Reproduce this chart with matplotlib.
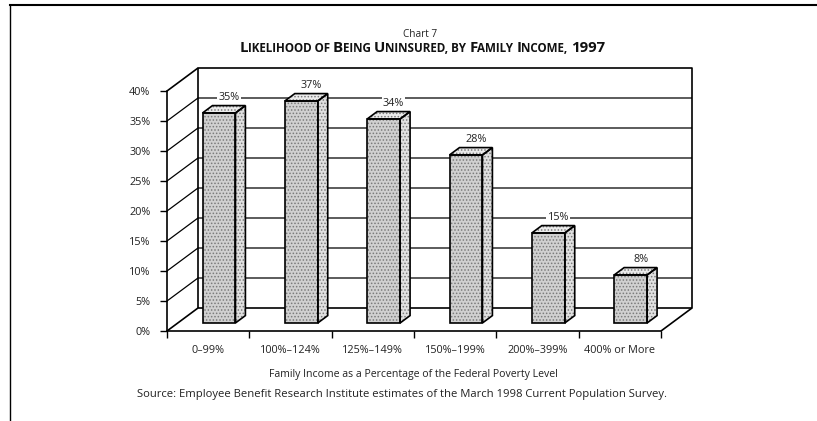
import matplotlib
matplotlib.use('Agg')
import matplotlib.pyplot as plt
from matplotlib.patches import Polygon
from matplotlib.lines import Line2D

# ---- data ----
categories = ['0–99%', '100%–124%', '125%–149%', '150%–199%', '200%–399%', '400% or More']
values = [35, 37, 34, 28, 15, 8]
value_labels = ['35%', '37%', '34%', '28%', '15%', '8%']
yticks = [0, 5, 10, 15, 20, 25, 30, 35, 40]
ytick_labels = ['0%', '5%', '10%', '15%', '20%', '25%', '30%', '35%', '40%']
chart_number = 'Chart 7'
title_chunks = [("L", True), ("IKELIHOOD OF ", False), ("B", True), ("EING ", False),
                ("U", True), ("NINSURED, BY ", False), ("F", True), ("AMILY ", False),
                ("I", True), ("NCOME, ", False), ("1997", True)]
xlabel = 'Family Income as a Percentage of the Federal Poverty Level'
source = 'Source: Employee Benefit Research Institute estimates of the March 1998 Current Population Survey.'

plt.rcParams['font.family'] = ['Open Sans', 'DejaVu Sans']
plt.rcParams['hatch.linewidth'] = 0.7

W, H = 817, 421
fig = plt.figure(figsize=(W / 100, H / 100), dpi=100)

# front plane of the pseudo-3D chart
ax = fig.add_axes([167 / W, 1 - 331 / H, 494 / W, 240 / H])
n = len(categories)
ax.set_xlim(0, n)
ax.set_ylim(0, 40)
ax.patch.set_visible(False)
for s in ['top', 'right']:
    ax.spines[s].set_visible(False)
for s in ['left', 'bottom']:
    ax.spines[s].set_linewidth(1.2)

# depth offsets (data units)
ddx = 31 / (494 / n)
ddy = 23 / 6.0

lk = dict(color='black', clip_on=False, solid_capstyle='butt')
# back wall
ax.plot([ddx, n + ddx, n + ddx, ddx, ddx], [ddy, ddy, 40 + ddy, 40 + ddy, ddy], lw=1.2, **lk)
# left wall / floor edges
ax.plot([0, ddx], [40, 40 + ddy], lw=1.2, **lk)
ax.plot([0, ddx], [0, ddy], lw=1.2, **lk)
ax.plot([n, n + ddx], [0, ddy], lw=1.2, **lk)
# gridlines
for t in yticks[1:-1]:
    ax.plot([0, ddx, n + ddx], [t, t + ddy, t + ddy], lw=0.9, zorder=1, **lk)

# bars
hw = 0.2
f0, f1 = 0.35, 0.67
for i, v in enumerate(values):
    cx = i + 0.5
    xl0, xr0 = cx - hw + f0 * ddx, cx + hw + f0 * ddx
    xl1, xr1 = cx - hw + f1 * ddx, cx + hw + f1 * ddx
    y0, y1 = f0 * ddy, f1 * ddy
    front = [(xl0, y0), (xr0, y0), (xr0, v + y0), (xl0, v + y0)]
    side = [(xr0, y0), (xr1, y1), (xr1, v + y1), (xr0, v + y0)]
    top = [(xl0, v + y0), (xr0, v + y0), (xr1, v + y1), (xl1, v + y1)]
    for poly, fc in [(front, '#d0d0d0'), (side, '#e0e0e0'), (top, '#ebebeb')]:
        ax.add_patch(Polygon(poly, closed=True, facecolor=fc, edgecolor='#7a7a7a',
                             hatch='.....', lw=0, zorder=3, clip_on=False))
        ax.add_patch(Polygon(poly, closed=True, fill=False, edgecolor='black',
                             lw=1.2, zorder=4, clip_on=False, joinstyle='miter'))
    ax.text(cx + f1 * ddx, v + y1 + 0.5, value_labels[i], ha='center', va='bottom',
            fontsize=7.8, zorder=5, color='#222222',
            bbox=dict(facecolor='white', edgecolor='none', pad=0.8))

# axes ticks
ax.set_yticks(yticks)
ax.set_yticklabels(ytick_labels)
ax.tick_params(axis='y', length=5, width=1, direction='out', pad=7, labelsize=7.8,
               labelcolor='#222222')
ax.set_xticks(range(n + 1))
ax.set_xticklabels([''] * (n + 1))
ax.tick_params(axis='x', which='major', length=5, width=1, direction='out')
ax.set_xticks([i + 0.5 for i in range(n)], minor=True)
ax.set_xticklabels(categories, minor=True)
ax.tick_params(axis='x', which='minor', length=0, pad=10, labelsize=7.8,
               labelcolor='#222222')

# texts
fig.text(420 / W, 1 - 37 / H, chart_number, ha='center', va='baseline', fontsize=7.2,
         color='#222222')
fig.text(413 / W, 1 - 374 / H, xlabel, ha='center', va='center', fontsize=7.6,
         color='#222222')
fig.text(137 / W, 1 - 394 / H, source, ha='left', va='center', fontsize=8.1,
         color='#222222')

# small-caps title
renderer = fig.canvas.get_renderer()
big, small = 10.8, 8.4
texts = []
for s, b in title_chunks:
    t = fig.text(0, 1 - 52 / H, s, fontsize=big if b else small, fontweight='bold',
                 ha='left', va='baseline', color='#111111')
    texts.append(t)
widths = [t.get_window_extent(renderer).width for t in texts]
total = sum(widths)
x = 422 - total / 2
for t, w in zip(texts, widths):
    t.set_x(x / W)
    x += w

# frame lines
fig.add_artist(Line2D([10 / W, 1], [1 - 5 / H, 1 - 5 / H], transform=fig.transFigure,
                      color='black', lw=1.5))
fig.add_artist(Line2D([10 / W, 10 / W], [0, 1 - 5 / H], transform=fig.transFigure,
                      color='black', lw=1.0))

fig.savefig('out.png', dpi=100)
